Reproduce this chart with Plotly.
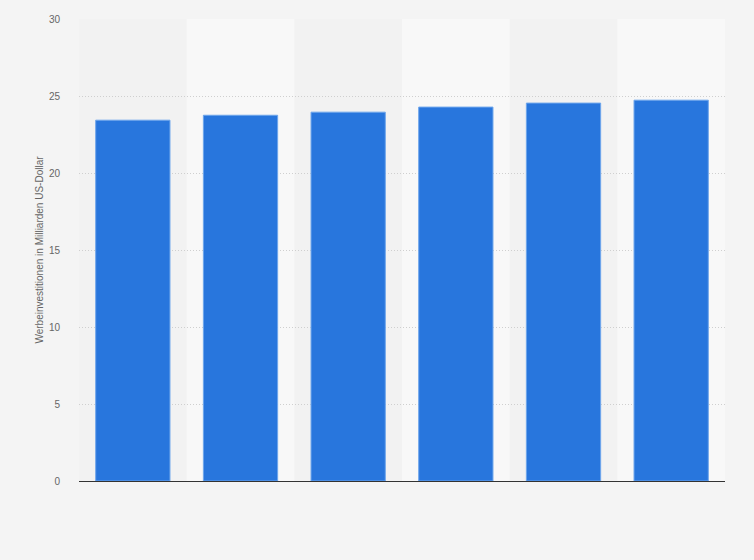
import plotly.graph_objects as go

years = ["2016", "2017", "2018", "2019", "2020", "2021"]
ad_spend = [23.43, 23.75, 23.95, 24.28, 24.54, 24.73]
y_ticks = [0, 5, 10, 15, 20, 25, 30]

fig = go.Figure()
fig.add_trace(go.Bar(
    x=years, y=ad_spend,
    marker=dict(color="#2876dd", line=dict(color="#6ea6ec", width=1)),
    hoverinfo="y",
))

# lighter band behind every second column
for i in range(1, len(years), 2):
    fig.add_shape(type="rect", xref="x", yref="paper",
                  x0=i - 0.5, x1=i + 0.5, y0=0, y1=1,
                  fillcolor="#f8f8f8", line_width=0, layer="below")

fig.update_layout(
    width=754, height=560,
    margin=dict(l=79, r=29, t=19, b=79),
    paper_bgcolor="#f4f4f4",
    plot_bgcolor="#f2f2f2",
    bargap=0.31,
    showlegend=False,
    font=dict(family="Liberation Sans, Arial, sans-serif", color="#666666", size=10),
)
fig.update_xaxes(
    showticklabels=False, showgrid=False,
    showline=True, linecolor="#333333", linewidth=1,
)
fig.update_yaxes(
    range=[0, 30], tickvals=y_ticks,
    showgrid=True, gridcolor="#cfcfcf", griddash="1px,2px", gridwidth=1,
    zeroline=False,
    ticks="outside", ticklen=16, tickcolor="rgba(0,0,0,0)",
    tickfont=dict(size=10, color="#666666"),
    title=dict(text="Werbeinvestitionen in Milliarden US-Dollar",
               font=dict(size=10, color="#666666"), standoff=3),
)

# drop the browser's default page margin so the figure fills the window
fig.write_html("out.html",
               config={"displayModeBar": False},
               post_script="document.body.style.margin='0';"
                           "document.body.style.background='#f4f4f4';")
